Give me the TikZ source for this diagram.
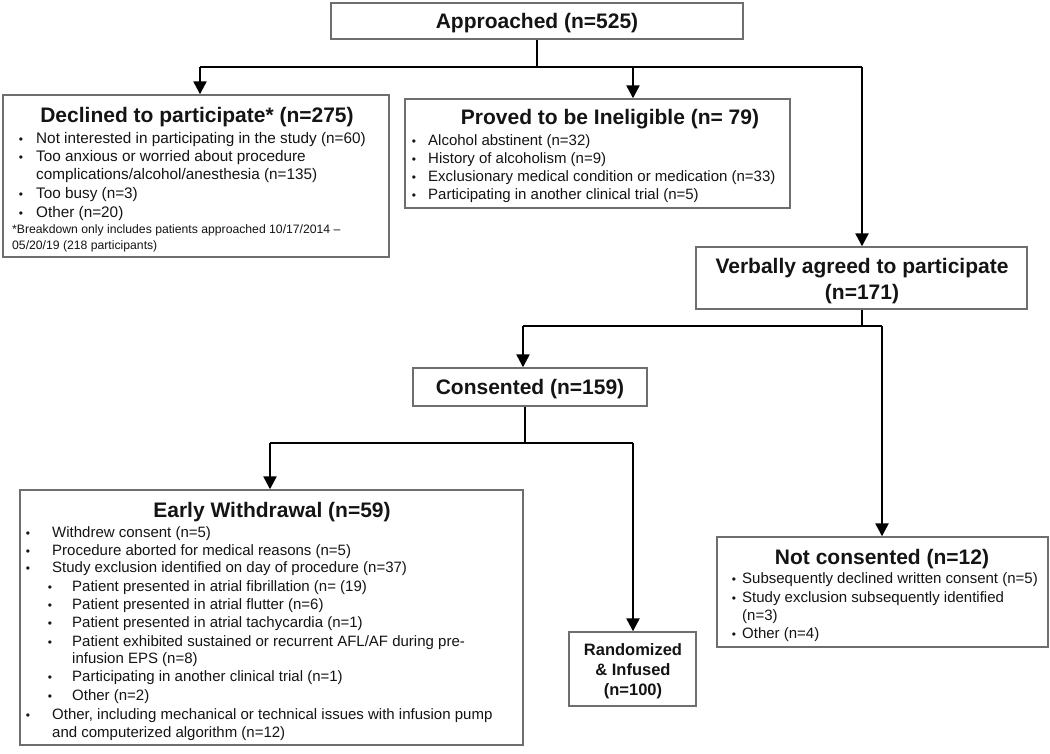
\documentclass[tikz,border=0pt]{standalone}
\usepackage{fontspec}
\setmainfont{Liberation Sans}
\usetikzlibrary{arrows.meta,calc}
\definecolor{boxgray}{HTML}{6E6E6E}
\definecolor{txt}{HTML}{141414}
\newcommand{\mkbox}[5]{\node[box,minimum width={#4-#2},minimum height={#5-#3}] (#1) at ({(#2+#4)/2},{(#3+#5)/2}) {};}
\begin{document}
\begin{tikzpicture}[x=1pt,y=-1pt,
 box/.style={draw=boxgray,line width=1.4pt,fill=white,inner sep=0pt},
 conn/.style={line width=2.4pt,black},
 arr/.style={conn,-{Triangle[width=13pt,length=13pt]}},
 ttl/.style={font=\fontsize{21}{23}\selectfont\bfseries,inner sep=0pt,anchor=base,text=txt},
 ttls/.style={font=\fontsize{16.5}{18}\selectfont\bfseries,inner sep=0pt,anchor=base,text=txt},
 bd/.style={font=\fontsize{15}{17}\selectfont,inner sep=0pt,anchor=base west,text=txt},
 bdd/.style={font=\fontsize{15.3}{17}\selectfont,inner sep=0pt,anchor=base west,text=txt},
 fn/.style={font=\fontsize{12.2}{14}\selectfont,inner sep=0pt,anchor=base west,text=txt},
 bul/.style={font=\fontsize{12}{14}\selectfont,inner sep=0pt,anchor=base,text=txt}]
\useasboundingbox[fill=white] (0,0) rectangle (1050,753);

% boxes
\mkbox{appr}{331}{3}{743}{39}
\mkbox{decl}{3}{95}{389}{257}
\mkbox{inel}{405}{99}{790}{208}
\mkbox{verb}{696}{247}{1027}{309}
\mkbox{cons}{413}{368}{647}{406}
\mkbox{early}{20}{490}{523}{745}
\mkbox{rand}{569}{632}{696}{706}
\mkbox{notc}{717}{537}{1048}{647}

% Approached
\node[ttl] (tappr) at (537,28.5) {Approached (n=525)};

% Declined
\node[ttl] (tdecl) at (197,122.5) {Declined to participate* (n=275)};
\node[bul] (bd1) at (21,143) {•};
\node[bdd] (d1) at (36,143) {Not interested in participating in the study (n=60)};
\node[bul] (bd2) at (21,161) {•};
\node[bdd] (d2) at (36,161) {Too anxious or worried about procedure};
\node[bdd] (d2b) at (36,179) {complications/alcohol/anesthesia (n=135)};
\node[bul] (bd3) at (21,198) {•};
\node[bdd] (d3) at (36,198) {Too busy (n=3)};
\node[bul] (bd4) at (21,217) {•};
\node[bdd] (d4) at (36,217) {Other (n=20)};
\node[fn] (f1) at (12,233.5) {*Breakdown only includes patients approached 10/17/2014 –};
\node[fn] (f2) at (12,249.5) {05/20/19 (218 participants)};

% Ineligible
\node[ttl] (tinel) at (610,124.5) {Proved to be Ineligible (n= 79)};
\node[bul] (bi1) at (414,145) {•};
\node[bd] (i1) at (428,145) {Alcohol abstinent (n=32)};
\node[bul] (bi2) at (414,163) {•};
\node[bd] (i2) at (428,163) {History of alcoholism (n=9)};
\node[bul] (bi3) at (414,181.5) {•};
\node[bd] (i3) at (428,181.5) {Exclusionary medical condition or medication (n=33)};
\node[bul] (bi4) at (414,199) {•};
\node[bd] (i4) at (428,199) {Participating in another clinical trial (n=5)};

% Verbally
\node[ttl] (tverb1) at (862,273.5) {Verbally agreed to participate};
\node[ttl] (tverb2) at (862,299.5) {(n=171)};

% Consented
\node[ttl] (tcons) at (530,394.5) {Consented (n=159)};

% Early withdrawal
\node[ttl] (tearly) at (272,517.5) {Early Withdrawal (n=59)};
\node[bul] (be1) at (28,537) {•};
\node[bd] (e1) at (52,537) {Withdrew consent (n=5)};
\node[bul] (be2) at (28,555) {•};
\node[bd] (e2) at (52,555) {Procedure aborted for medical reasons (n=5)};
\node[bul] (be3) at (28,572.5) {•};
\node[bd] (e3) at (52,572.5) {Study exclusion identified on day of procedure (n=37)};
\node[bul] (be4) at (50,591) {•};
\node[bd] (e4) at (72,591) {Patient presented in atrial fibrillation (n= (19)};
\node[bul] (be5) at (50,609) {•};
\node[bd] (e5) at (72,609) {Patient presented in atrial flutter (n=6)};
\node[bul] (be6) at (50,627) {•};
\node[bd] (e6) at (72,627) {Patient presented in atrial tachycardia (n=1)};
\node[bul] (be7) at (50,646) {•};
\node[bd] (e7) at (72,646) {Patient exhibited sustained or recurrent AFL/AF during pre-};
\node[bd] (e7b) at (72,663) {infusion EPS (n=8)};
\node[bul] (be8) at (50,681) {•};
\node[bd] (e8) at (72,681) {Participating in another clinical trial (n=1)};
\node[bul] (be9) at (50,700) {•};
\node[bd] (e9) at (72,700) {Other (n=2)};
\node[bul] (be10) at (28,719) {•};
\node[bd] (e10) at (52,719) {Other, including mechanical or technical issues with infusion pump};
\node[bd] (e10b) at (52,737) {and computerized algorithm (n=12)};

% Randomized
\node[ttls] (tr1) at (633,655) {Randomized};
\node[ttls] (tr2) at (633,675) {\& Infused};
\node[ttls] (tr3) at (633,695) {(n=100)};

% Not consented
\node[ttl] (tnotc) at (882,564.5) {Not consented (n=12)};
\node[bul] (bn1) at (734,583) {•};
\node[bd] (n1) at (742,583) {Subsequently declined written consent (n=5)};
\node[bul] (bn2) at (734,602) {•};
\node[bd] (n2) at (742,602) {Study exclusion subsequently identified};
\node[bd] (n2b) at (742,620) {(n=3)};
\node[bul] (bn3) at (734,638) {•};
\node[bd] (n3) at (742,638) {Other (n=4)};

% connectors
\coordinate (j1) at (537,67);
\coordinate (j1l) at (200,67);
\coordinate (j1m) at (633,67);
\coordinate (j1r) at (862,67);
\draw[conn] (appr.south) -- (j1);
\draw[conn] (j1l) -- (j1r);
\draw[arr] (j1l) -- (decl.north -| j1l);
\draw[arr] (j1m) -- (inel.north -| j1m);
\draw[arr] (j1r) -- (verb.north -| j1r);

\coordinate (j2) at (862,326);
\coordinate (j2l) at (523,326);
\coordinate (j2r) at (882,326);
\draw[conn] (verb.south -| j2) -- (j2);
\draw[conn] (j2l) -- (j2r);
\draw[arr] (j2l) -- (cons.north -| j2l);
\draw[arr] (j2r) -- (notc.north -| j2r);

\coordinate (j3) at (525,443);
\coordinate (j3l) at (270,443);
\coordinate (j3r) at (633,443);
\draw[conn] (cons.south -| j3) -- (j3);
\draw[conn] (j3l) -- (j3r);
\draw[arr] (j3l) -- (early.north -| j3l);
\draw[arr] (j3r) -- (rand.north -| j3r);
\end{tikzpicture}
\end{document}
